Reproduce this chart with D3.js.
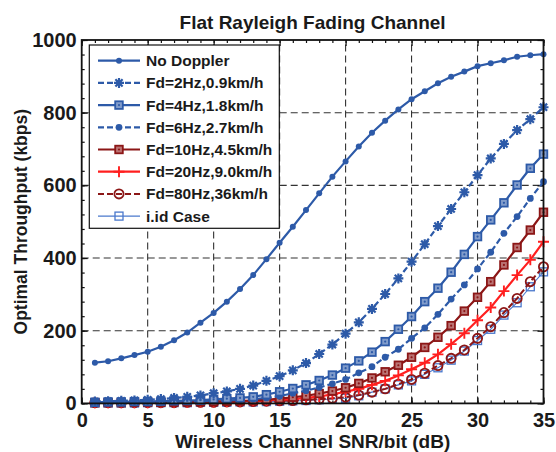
<!DOCTYPE html>
<html>
<head>
<meta charset="utf-8">
<script src="https://cdn.jsdelivr.net/npm/d3@7"></script>
<style>
  body { margin: 0; background: #fff; }
  text { font-family: "Liberation Sans", Arial, sans-serif; font-weight: bold; fill: #1a1a1a; }
</style>
</head>
<body>
<svg id="chart"></svg>
<script>
const W = 556, H = 452;
const M = {top: 40, right: 12.5, bottom: 48.6, left: 81.7};

// SNR per bit (dB)
const snr = [1,2,3,4,5,6,7,8,9,10,11,12,13,14,15,16,17,18,19,20,21,22,23,24,25,26,27,28,29,30,31,32,33,34,35];

// throughput (kbps) per series
const noDoppler = [112,116,124,133,142,156,174,195,222,249,280,315,353,397,442,486,532,578,624,666,707,745,778,809,837,859,881,899,913,928,936,944,954,958,961];
const fd2  = [5,6,7,8,10,12,15,18,22,28,33,40,49,62,75,91,111,136,162,192,223,260,301,344,390,438,488,535,581,628,674,714,752,782,815];
const fd4  = [3,4,4,5,5,6,7,8,9,11,13,15,18,24,32,41,51,63,78,97,117,141,170,204,239,280,317,361,410,459,505,552,601,647,686];
const fd6  = [2,2,3,3,4,4,5,5,6,7,8,10,12,15,20,28,35,44,54,66,84,101,127,149,179,208,245,287,326,370,416,468,514,564,610];
const fd10 = [2,2,2,3,3,3,4,4,5,5,6,7,8,10,13,17,21,27,34,43,55,70,87,105,127,154,182,214,254,292,335,381,429,477,526];
const fd20 = [2,2,2,2,2,3,3,3,4,4,5,6,7,8,10,12,15,19,25,32,40,51,62,77,94,112,135,163,193,229,264,309,353,395,445];
const fd80 = [2,2,2,2,2,2,2,3,3,3,4,4,5,6,7,8,10,12,14,17,23,31,40,53,66,83,104,124,147,179,211,250,289,335,376];
const iid  = [1,1,1,1,2,2,2,2,3,3,3,4,4,5,6,7,8,10,12,14,21,31,40,51,62,80,98,119,144,173,204,243,277,321,362];

const xTicks = [0,5,10,15,20,25,30,35];
const yTicks = [0,200,400,600,800,1000];

const BLUE = "#2d5aa8", DRED = "#8c1616", RED = "#ff1f1f", LBLUE = "#4a78cc";

// drawing order: bottom first
const series = [
  {name: "i.id Case",          data: iid,       color: LBLUE, dash: null,  width: 1.1, marker: "osquare"},
  {name: "Fd=80Hz,36km/h",     data: fd80,      color: DRED,  dash: "6,3", width: 2,   marker: "circle"},
  {name: "Fd=20Hz,9.0km/h",    data: fd20,      color: RED,   dash: null,  width: 2.2, marker: "plus"},
  {name: "Fd=10Hz,4.5km/h",    data: fd10,      color: DRED,  dash: null,  width: 2.2, marker: "square"},
  {name: "Fd=6Hz,2.7km/h",     data: fd6,       color: BLUE,  dash: "6,3", width: 2.2, marker: "dot"},
  {name: "Fd=4Hz,1.8km/h",     data: fd4,       color: BLUE,  dash: null,  width: 2.2, marker: "square"},
  {name: "Fd=2Hz,0.9km/h",     data: fd2,       color: BLUE,  dash: "6,3", width: 2.2, marker: "star"},
  {name: "No Doppler",         data: noDoppler, color: BLUE,  dash: null,  width: 2.2, marker: "sdot"}
];

var svg = d3.select("#chart").attr("width", W).attr("height", H);

var x = d3.scaleLinear().domain([0, 35]).range([M.left, W - M.right]);
var y = d3.scaleLinear().domain([0, 1000]).range([H - M.bottom, M.top]);

// grid
var grid = svg.append("g").attr("stroke", "#333").attr("stroke-width", 1.1).attr("stroke-dasharray", "7,4");
grid.selectAll(".gx").data(xTicks.slice(1, -1)).join("line")
  .attr("x1", d => x(d)).attr("x2", d => x(d)).attr("y1", y(0)).attr("y2", y(1000));
grid.selectAll(".gy").data(yTicks.slice(1, -1)).join("line")
  .attr("y1", d => y(d)).attr("y2", d => y(d)).attr("x1", x(0)).attr("x2", x(35));

// axes with inward ticks on all four sides
function styleAxis(g) {
  g.select(".domain").remove();
  g.selectAll("line").attr("stroke", "#111").attr("stroke-width", 1.2);
}
var xMinor = d3.range(0, 36, 1), yMinor = d3.range(0, 1001, 40);
svg.append("g").attr("transform", `translate(0,${y(0)})`)
  .call(d3.axisBottom(x).tickValues(xMinor).tickSize(-3).tickFormat("")).call(styleAxis);
svg.append("g").attr("transform", `translate(0,${y(1000)})`)
  .call(d3.axisTop(x).tickValues(xMinor).tickSize(-3).tickFormat("")).call(styleAxis);
svg.append("g").attr("transform", `translate(${x(0)},0)`)
  .call(d3.axisLeft(y).tickValues(yMinor).tickSize(-3).tickFormat("")).call(styleAxis);
svg.append("g").attr("transform", `translate(${x(35)},0)`)
  .call(d3.axisRight(y).tickValues(yMinor).tickSize(-3).tickFormat("")).call(styleAxis);

var xAxis = svg.append("g").attr("transform", `translate(0,${y(0)})`)
  .call(d3.axisBottom(x).tickValues(xTicks).tickSize(-6).tickPadding(9).tickFormat(d3.format("d")));
styleAxis(xAxis);
xAxis.selectAll("text").attr("font-size", 20).attr("fill", "#1a1a1a").attr("dy", "0.72em");
var xTop = svg.append("g").attr("transform", `translate(0,${y(1000)})`)
  .call(d3.axisTop(x).tickValues(xTicks).tickSize(-6).tickFormat(""));
styleAxis(xTop);
var yAxis = svg.append("g").attr("transform", `translate(${x(0)},0)`)
  .call(d3.axisLeft(y).tickValues(yTicks).tickSize(-6).tickPadding(5).tickFormat(d3.format("d")));
styleAxis(yAxis);
yAxis.selectAll("text").attr("font-size", 20).attr("fill", "#1a1a1a");
var yRight = svg.append("g").attr("transform", `translate(${x(35)},0)`)
  .call(d3.axisRight(y).tickValues(yTicks).tickSize(-6).tickFormat(""));
styleAxis(yRight);

// series
var line = d3.line().x((d, i) => x(snr[i])).y(d => y(d));

function drawMarker(g, type, color) {
  if (type === "sdot") {
    g.append("circle").attr("r", 3).attr("fill", color);
  } else if (type === "dot") {
    g.append("circle").attr("r", 3.4).attr("fill", color);
  } else if (type === "square") {
    g.append("rect").attr("x", -3.8).attr("y", -3.8).attr("width", 7.6).attr("height", 7.6)
      .attr("fill", d3.interpolateRgb(color, "#fff")(0.4)).attr("stroke", color).attr("stroke-width", 1.8);
    g.append("circle").attr("r", 1.1).attr("fill", color);
  } else if (type === "osquare") {
    g.append("rect").attr("x", -4).attr("y", -4).attr("width", 8).attr("height", 8)
      .attr("fill", "none").attr("stroke", color).attr("stroke-width", 1.3);
  } else if (type === "circle") {
    g.append("circle").attr("r", 4.6).attr("fill", "none").attr("stroke", color).attr("stroke-width", 1.8);
  } else if (type === "plus") {
    g.append("path").attr("d", "M-5.5,0H5.5M0,-5.5V5.5").attr("stroke", color).attr("stroke-width", 1.9);
  } else if (type === "star") {
    g.append("path").attr("d", "M-5,0H5M0,-5V5M-3.6,-3.6L3.6,3.6M-3.6,3.6L3.6,-3.6")
      .attr("stroke", color).attr("stroke-width", 2.2);
  }
}

var plot = svg.append("g");
series.forEach(s => {
  plot.append("path").datum(s.data)
    .attr("d", line).attr("fill", "none")
    .attr("stroke", s.color).attr("stroke-width", s.width)
    .attr("stroke-dasharray", s.dash);
  plot.append("g").selectAll("g").data(s.data).join("g")
    .attr("transform", (d, i) => `translate(${x(snr[i])},${y(d)})`)
    .each(function() { drawMarker(d3.select(this), s.marker, s.color); });
});

// frame
svg.append("rect").attr("x", x(0)).attr("y", y(1000))
  .attr("width", x(35) - x(0)).attr("height", y(0) - y(1000))
  .attr("fill", "none").attr("stroke", "#111").attr("stroke-width", 1.8);

// legend
var lx = 89.3, ly = 45, lw = 190, lh = 183.3;
var leg = svg.append("g");
leg.append("rect").attr("x", lx).attr("y", ly).attr("width", lw).attr("height", lh)
  .attr("fill", "#fff").attr("stroke", "#111").attr("stroke-width", 1.2);
series.slice().reverse().forEach((s, i) => {
  var cy = 60.7 + i * 22.2;
  leg.append("line").attr("x1", 98).attr("x2", 140).attr("y1", cy).attr("y2", cy)
    .attr("stroke", s.color).attr("stroke-width", s.width).attr("stroke-dasharray", s.dash);
  drawMarker(leg.append("g").attr("transform", `translate(119,${cy})`), s.marker, s.color);
  leg.append("text").attr("x", 146).attr("y", cy).attr("dy", "0.36em")
    .attr("font-size", 15.5).text(s.name);
});

// titles
svg.append("text").attr("x", (x(0) + x(35)) / 2).attr("y", 28.5)
  .attr("text-anchor", "middle").attr("font-size", 19).text("Flat Rayleigh Fading Channel");
svg.append("text").attr("x", (x(0) + x(35)) / 2).attr("y", 448)
  .attr("text-anchor", "middle").attr("font-size", 19).text("Wireless Channel SNR/bit (dB)");
svg.append("text").attr("transform", `translate(27,${(y(0) + y(1000)) / 2}) rotate(-90)`)
  .attr("text-anchor", "middle").attr("font-size", 17.5).text("Optimal Throughput (kbps)");
</script>
</body>
</html>
